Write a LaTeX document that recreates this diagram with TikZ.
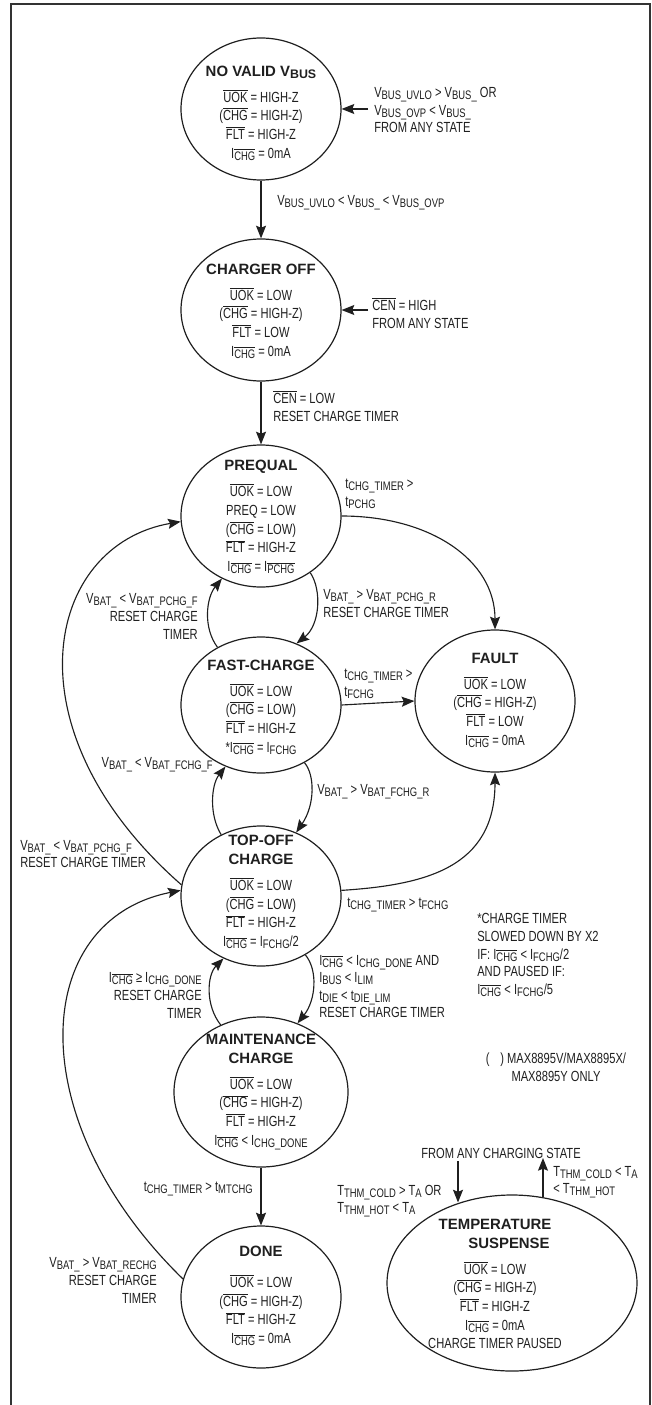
\documentclass[tikz,border=0pt]{standalone}
\usepackage{fontspec}
\setmainfont{Liberation Sans}[FakeStretch=0.76]
\newfontfamily\titlefont{Liberation Sans}
\usetikzlibrary{shapes.geometric,arrows.meta,calc}
\newcommand{\lo}[1]{\raisebox{-1.5pt}{\fontsize{9.3}{9.3}\selectfont #1}}
\newcommand{\ov}[1]{$\overline{\mbox{#1}}$}
\newcommand{\ttl}[1]{{\titlefont\bfseries\fontsize{11.2}{13.5}\selectfont #1}}
\definecolor{ink}{gray}{0.12}
\tikzset{
  st/.style={draw=ink, ellipse, line width=0.9pt, inner sep=0pt},
  stt/.style={inner sep=0pt, align=center, text=ink, font=\fontsize{11}{14}\selectfont},
  lbl/.style={inner sep=0pt, text=ink, font=\fontsize{11}{13.2}\selectfont},
  arr/.style={draw=ink, line width=0.85pt, -{Stealth[length=9.5pt,width=7.5pt,inset=1.5pt]}},
  ln/.style={draw=ink, line width=0.85pt},
}
\begin{document}
\begin{tikzpicture}[x=0.75pt,y=-0.75pt]
\useasboundingbox (0,0) rectangle (652,1405);
% frame
\draw[draw=black!80, line width=1.4pt] (11,1405) -- (11,4) -- (650,4) -- (650,1405);

% states
\node[st, minimum width=120pt, minimum height=106.5pt] (nv) at (261,109) {};
\node[stt] (nvt) at (261,113) {\ttl{NO VALID V\lo{BUS}}\\[5.5pt] \ov{UOK} = HIGH-Z\\ (\ov{CHG} = HIGH-Z)\\ \ov{FLT} = HIGH-Z\\ I\lo{\ov{CHG}} = 0mA};

\node[st, minimum width=120pt, minimum height=106.5pt] (off) at (261,310) {};
\node[stt] (offt) at (261,311) {\ttl{CHARGER OFF}\\[5.5pt] \ov{UOK} = LOW\\ (\ov{CHG} = HIGH-Z)\\ \ov{FLT} = LOW\\ I\lo{\ov{CHG}} = 0mA};

\node[st, minimum width=120pt, minimum height=106.5pt] (pq) at (261,516) {};
\node[stt] (pqt) at (261,517) {\ttl{PREQUAL}\\[5.5pt] \ov{UOK} = LOW\\ PREQ = LOW\\ (\ov{CHG} = LOW)\\ \ov{FLT} = HIGH-Z\\ I\lo{\ov{CHG}} = I\lo{\ov{PCHG}}};

\node[st, minimum width=120pt, minimum height=102pt] (fast) at (261,705) {};
\node[stt] (fastt) at (261,707) {\ttl{FAST-CHARGE}\\[5.5pt] \ov{UOK} = LOW\\ (\ov{CHG} = LOW)\\ \ov{FLT} = HIGH-Z\\ *I\lo{\ov{CHG}} = I\lo{FCHG}};

\node[st, minimum width=120pt, minimum height=106.5pt] (fault) at (495,701) {};
\node[stt] (faultt) at (495,700) {\ttl{FAULT}\\[5.5pt] \ov{UOK} = LOW\\ (\ov{CHG} = HIGH-Z)\\ \ov{FLT} = LOW\\ I\lo{\ov{CHG}} = 0mA};

\node[st, minimum width=120pt, minimum height=105pt] (top) at (261,896) {};
\node[stt] (topt) at (261,892) {\ttl{TOP-OFF}\\ \ttl{CHARGE}\\[5.5pt] \ov{UOK} = LOW\\ (\ov{CHG} = LOW)\\ \ov{FLT} = HIGH-Z\\ I\lo{\ov{CHG}} = I\lo{FCHG}/2};

\node[st, minimum width=130.5pt, minimum height=112.5pt] (mnt) at (261,1092) {};
\node[stt] (mntt) at (261,1092) {\ttl{MAINTENANCE}\\ \ttl{CHARGE}\\[5.5pt] \ov{UOK} = LOW\\ (\ov{CHG} = HIGH-Z)\\ \ov{FLT} = HIGH-Z\\ I\lo{\ov{CHG}} < I\lo{CHG\_DONE}};

\node[st, minimum width=120pt, minimum height=106.5pt] (done) at (261,1297) {};
\node[stt] (donet) at (261,1296) {\ttl{DONE}\\[9pt] \ov{UOK} = LOW\\ (\ov{CHG} = HIGH-Z)\\ \ov{FLT} = HIGH-Z\\ I\lo{\ov{CHG}} = 0mA};

\node[st, minimum width=187.5pt, minimum height=132pt] (temp) at (512,1283) {};
\node[stt] (tempt) at (495,1284) {\ttl{TEMPERATURE}\\ \hspace*{21pt}\ttl{SUSPENSE}\\[5.5pt] \ov{UOK} = LOW\\ (\ov{CHG} = HIGH-Z)\\ \ov{FLT} = HIGH-Z\\ I\lo{\ov{CHG}} = 0mA\\ CHARGE TIMER PAUSED};

% free ends
\coordinate (nvin) at (368,109);
\coordinate (offin) at (368,310);
\coordinate (tin) at (458,1161);
\coordinate (tout) at (543,1158);

% connectors
\draw[arr] (nvin) -- (nv.east);
\draw[arr] (nv.south) -- (off.north);
\draw[arr] (offin) -- (off.east);
\draw[arr] (off.south) -- (pq.north);
\draw[arr] (pq.east) .. controls (430,516) and (495,560) .. (fault.north);
\draw[arr] (pq.-49) .. controls (322,590) and (320,625) .. (fast.60);
\draw[arr] (fast.127) .. controls (203,628) and (206,598) .. (pq.-122);
\draw[arr] (fast.east) -- (fault.west);
\draw[arr] (fast.-53) .. controls (315,775) and (315,805) .. (top.61);
\draw[arr] (top.123) .. controls (209,815) and (211,785) .. (fast.-120);
\draw[arr] (top.172) .. controls (5,730) and (45,545) .. (pq.184);
\draw[arr] (top.4) .. controls (425,885) and (495,868) .. (fault.south);
\draw[arr] (top.-53) .. controls (318,970) and (316,1000) .. (mnt.62);
\draw[arr] (mnt.121) .. controls (205,1005) and (207,975) .. (top.-121);
\draw[arr] (mnt.south) -- (done.north);
\draw[arr] (done.167) .. controls (20,1120) and (30,920) .. (top.176);
\draw[arr] (tin) -- (tin |- temp.123);
\draw[arr] (tout |- temp.70) -- (tout);

% labels
\node[lbl, anchor=west, align=left] (l1) at (374,110) {V\lo{BUS\_UVLO} > V\lo{BUS\_} OR\\ V\lo{BUS\_OVP} < V\lo{BUS\_}\\ FROM ANY STATE};
\node[lbl, anchor=west] (l2) at (277,203) {V\lo{BUS\_UVLO} < V\lo{BUS\_} < V\lo{BUS\_OVP}};
\node[lbl, anchor=west, align=left] (l3) at (372,313) {\ov{CEN} = HIGH\\ FROM ANY STATE};
\node[lbl, anchor=west, align=left] (l4) at (273,406) {\ov{CEN} = LOW\\ RESET CHARGE TIMER};
\node[lbl, anchor=west, align=left] (l5) at (345,494) {t\lo{CHG\_TIMER} >\\ t\lo{PCHG}};
\node[lbl, anchor=west, align=left] (l6) at (323,603.5) {V\lo{BAT\_} > V\lo{BAT\_PCHG\_R}\\ RESET CHARGE TIMER};
\node[lbl, anchor=east, align=right] (l7) at (198,616.5) {V\lo{BAT\_} < V\lo{BAT\_PCHG\_F}\\ RESET CHARGE\\ TIMER};
\node[lbl, anchor=west, align=left] (l8) at (344,684) {t\lo{CHG\_TIMER} >\\ t\lo{FCHG}};
\node[lbl, anchor=east] (l9) at (213,765) {V\lo{BAT\_} < V\lo{BAT\_FCHG\_F}};
\node[lbl, anchor=west] (l10) at (317,792) {V\lo{BAT\_} > V\lo{BAT\_FCHG\_R}};
\node[lbl, anchor=west, align=left] (l11) at (20,854) {V\lo{BAT\_} < V\lo{BAT\_PCHG\_F}\\ RESET CHARGE TIMER};
\node[lbl, anchor=west] (l12) at (347,905) {t\lo{CHG\_TIMER} > t\lo{FCHG}};
\node[lbl, anchor=west, align=left] (l13) at (477,955) {*CHARGE TIMER\\ SLOWED DOWN BY X2\\ IF: I\lo{\ov{CHG}} < I\lo{FCHG}/2\\ AND PAUSED IF:\\ I\lo{\ov{CHG}} < I\lo{FCHG}/5};
\node[lbl, anchor=west, align=left] (l14) at (319,986.5) {I\lo{\ov{CHG}} < I\lo{CHG\_DONE} AND\\ I\lo{BUS} < I\lo{LIM}\\ t\lo{DIE} < t\lo{DIE\_LIM}\\ RESET CHARGE TIMER};
\node[lbl, anchor=east, align=right] (l15) at (202,995.5) {I\lo{\ov{CHG}} ≥ I\lo{CHG\_DONE}\\ RESET CHARGE\\ TIMER};
\node[lbl, align=center] (l16) at (556,1067) {(\hspace{8pt}) MAX8895V/MAX8895X/\\ MAX8895Y ONLY};
\node[lbl, anchor=east] (l17) at (253,1189) {t\lo{CHG\_TIMER} > t\lo{MTCHG}};
\node[lbl, anchor=east, align=right] (l18) at (157,1280.5) {V\lo{BAT\_} > V\lo{BAT\_RECHG}\\ RESET CHARGE\\ TIMER};
\node[lbl] (l19) at (501,1153) {FROM ANY CHARGING STATE};
\node[lbl, anchor=west, align=left] (l20) at (553,1182) {T\lo{THM\_COLD} < T\lo{A}\\ < T\lo{THM\_HOT}};
\node[lbl, anchor=west, align=left] (l21) at (337,1201) {T\lo{THM\_COLD} > T\lo{A} OR\\ T\lo{THM\_HOT} < T\lo{A}};
\end{tikzpicture}
\end{document}
